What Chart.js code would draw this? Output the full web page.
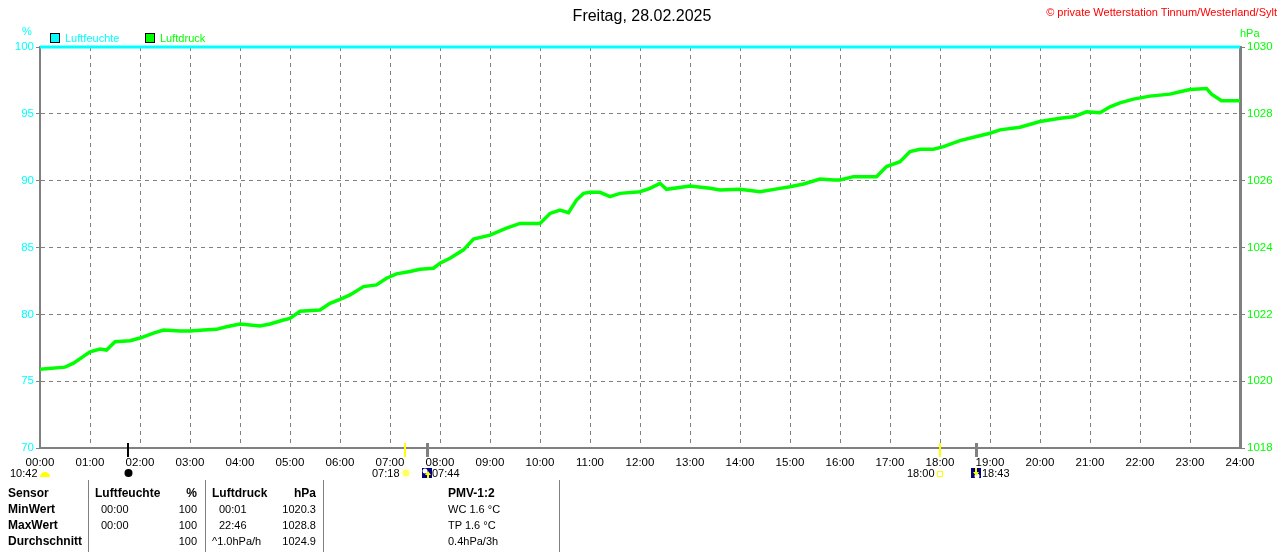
<!DOCTYPE html>
<html>
<head>
<meta charset="utf-8">
<script src="https://cdn.jsdelivr.net/npm/chart.js@4/dist/chart.umd.min.js"></script>
<style>
body { margin: 0; background: #fff; }
#wrap { position: relative; width: 1280px; height: 552px; overflow: hidden; font-family: "Liberation Sans", Arial, sans-serif; }
#wrap canvas { position: absolute; left: 0; top: 0; }
.t { position: absolute; white-space: nowrap; font-size: 11px; line-height: 14px; color: #000; }
.b { font-weight: bold; font-size: 12px; }
.sep { position: absolute; width: 1px; top: 480px; height: 72px; background: #808080; }
.box { position: absolute; width: 8px; height: 8px; border: 1px solid #000; }
</style>
</head>
<body>
<div id="wrap">
  <canvas id="chart" width="1280" height="552"></canvas>

  <div class="t" style="left:0;width:1280px;top:7px;text-align:center;font-size:16px;line-height:18px;padding-left:4px;box-sizing:border-box">Freitag, 28.02.2025</div>
  <div class="t" style="right:3px;top:5px;color:#ff0000">© private Wetterstation Tinnum/Westerland/Sylt</div>

  <div class="t" style="left:22px;top:24px;color:#00ffff">%</div>
  <div class="t" style="left:1240px;top:26px;color:#00ff00">hPa</div>

  <div class="box" style="left:50px;top:33px;background:#00ffff"></div>
  <div class="t" style="left:65px;top:31px;color:#00ffff">Luftfeuchte</div>
  <div class="box" style="left:145px;top:33px;background:#00ff00"></div>
  <div class="t" style="left:160px;top:31px;color:#00ff00">Luftdruck</div>

  <div class="t" style="left:10px;top:466px">10:42</div>
  <div class="t" style="left:372px;top:466px">07:18</div>
  <div class="t" style="left:432px;top:466px">07:44</div>
  <div class="t" style="left:907px;top:466px">18:00</div>
  <div class="t" style="left:982px;top:466px">18:43</div>

  <div class="sep" style="left:88px"></div>
  <div class="sep" style="left:205px"></div>
  <div class="sep" style="left:323px"></div>
  <div class="sep" style="left:559px"></div>

  <div class="t b" style="left:8px;top:486px">Sensor</div>
  <div class="t b" style="left:8px;top:502px">MinWert</div>
  <div class="t b" style="left:8px;top:518px">MaxWert</div>
  <div class="t b" style="left:8px;top:534px">Durchschnitt</div>

  <div class="t b" style="left:95px;top:486px">Luftfeuchte</div>
  <div class="t b" style="right:1083px;top:486px">%</div>
  <div class="t" style="left:101px;top:502px">00:00</div>
  <div class="t" style="right:1083px;top:502px">100</div>
  <div class="t" style="left:101px;top:518px">00:00</div>
  <div class="t" style="right:1083px;top:518px">100</div>
  <div class="t" style="right:1083px;top:534px">100</div>

  <div class="t b" style="left:212px;top:486px">Luftdruck</div>
  <div class="t b" style="right:964px;top:486px">hPa</div>
  <div class="t" style="left:219px;top:502px">00:01</div>
  <div class="t" style="right:964px;top:502px">1020.3</div>
  <div class="t" style="left:219px;top:518px">22:46</div>
  <div class="t" style="right:964px;top:518px">1028.8</div>
  <div class="t" style="left:212px;top:534px">^1.0hPa/h</div>
  <div class="t" style="right:964px;top:534px">1024.9</div>

  <div class="t b" style="left:448px;top:486px">PMV-1:2</div>
  <div class="t" style="left:448px;top:502px">WC 1.6 °C</div>
  <div class="t" style="left:448px;top:518px">TP 1.6 °C</div>
  <div class="t" style="left:448px;top:534px">0.4hPa/3h</div>
</div>

<script>
// time of day in hours
var hours = [0, 0.5, 0.67, 1.0, 1.2, 1.33, 1.5, 1.8, 2.0, 2.27, 2.47, 2.8, 3.0, 3.27, 3.53, 3.73,
  4.0, 4.4, 4.6, 4.87, 5.0, 5.2, 5.6, 5.8, 6.0, 6.2, 6.47, 6.73, 6.93, 7.13, 7.4, 7.6, 7.87,
  8.0, 8.2, 8.47, 8.67, 9.0, 9.33, 9.6, 10.0, 10.2, 10.4, 10.57, 10.73, 10.87, 11.0, 11.2, 11.4,
  11.6, 12.0, 12.2, 12.4, 12.53, 13.0, 13.4, 13.6, 14.0, 14.4, 14.8, 15.0, 15.27, 15.6, 15.87,
  16.0, 16.27, 16.73, 16.93, 17.2, 17.4, 17.6, 17.87, 18.07, 18.4, 18.73, 19.0, 19.2, 19.6,
  20.0, 20.4, 20.67, 20.93, 21.2, 21.4, 21.6, 21.87, 22.2, 22.6, 22.8, 23.0, 23.33, 23.43,
  23.63, 24.0];
// Luftdruck hPa
var pressure = [1020.36, 1020.42, 1020.54, 1020.88, 1020.96, 1020.93, 1021.18, 1021.21, 1021.29,
  1021.44, 1021.53, 1021.50, 1021.50, 1021.53, 1021.55, 1021.63, 1021.71, 1021.65, 1021.71,
  1021.83, 1021.88, 1022.09, 1022.13, 1022.33, 1022.45, 1022.58, 1022.83, 1022.88, 1023.08,
  1023.21, 1023.28, 1023.35, 1023.38, 1023.53, 1023.68, 1023.93, 1024.25, 1024.37, 1024.58,
  1024.72, 1024.72, 1025.02, 1025.12, 1025.04, 1025.42, 1025.62, 1025.65, 1025.65, 1025.52,
  1025.62, 1025.67, 1025.77, 1025.92, 1025.74, 1025.84, 1025.77, 1025.72, 1025.74, 1025.67,
  1025.77, 1025.82, 1025.90, 1026.05, 1026.02, 1026.02, 1026.12, 1026.12, 1026.42, 1026.57,
  1026.87, 1026.94, 1026.94, 1027.02, 1027.20, 1027.32, 1027.42, 1027.52, 1027.60, 1027.77,
  1027.87, 1027.91, 1028.06, 1028.03, 1028.21, 1028.33, 1028.44, 1028.53, 1028.59, 1028.66,
  1028.73, 1028.76, 1028.59, 1028.39, 1028.39];
// Luftfeuchte %
var humHours = [0, 24];
var humidity = [100, 100];

// sun / moon events on the time axis
var events = [
  { t: 1.75, color: '#000000', w: 2, icon: 'newmoon' },
  { t: 7.30, color: '#ffff00', w: 2, icon: 'sunrise' },
  { t: 7.73, color: '#808080', w: 3, icon: 'moonrise' },
  { t: 18.00, color: '#ffff00', w: 2, icon: 'sunset' },
  { t: 18.72, color: '#808080', w: 3, icon: 'moonset' }
];

function pad(n) { return (n < 10 ? '0' : '') + n; }

var FONT = "'Liberation Sans', Arial, sans-serif";

var eventPlugin = {
  id: 'events',
  afterDraw: function (chart) {
    var c = chart.ctx, xs = chart.scales.x, bot = chart.chartArea.bottom;
    c.save();
    // day length icon under 00:00
    var x0 = xs.getPixelForValue(0);
    c.fillStyle = '#ffff00';
    c.beginPath();
    c.arc(x0 + 5, 477, 5, Math.PI, 0);
    c.fill();

    events.forEach(function (e) {
      var x = Math.round(xs.getPixelForValue(e.t));
      c.fillStyle = e.color;
      c.fillRect(x - Math.floor(e.w / 2), bot - 5, e.w, 14);
      var y = 473;
      if (e.icon === 'newmoon') {
        c.fillStyle = '#000';
        c.beginPath(); c.arc(x + 0.5, y, 4, 0, Math.PI * 2); c.fill();
      } else if (e.icon === 'sunrise') {
        c.fillStyle = '#ffff60';
        c.beginPath(); c.arc(x + 1, y, 3.5, 0, Math.PI * 2); c.fill();
        c.strokeStyle = '#ffff90'; c.lineWidth = 1;
        for (var a = 0; a < 8; a++) {
          var an = a * Math.PI / 4;
          c.beginPath();
          c.moveTo(x + 1 + Math.cos(an) * 4.5, y + Math.sin(an) * 4.5);
          c.lineTo(x + 1 + Math.cos(an) * 6, y + Math.sin(an) * 6);
          c.stroke();
        }
      } else if (e.icon === 'sunset') {
        c.strokeStyle = '#ffff00'; c.lineWidth = 1;
        c.strokeRect(x - 2.5, 471.5, 5, 5);
      } else {
        var left = x - 5;
        c.fillStyle = '#000080';
        c.fillRect(left, 468, 10, 10);
        c.fillStyle = '#ffffff';
        if (e.icon === 'moonrise') {
          c.beginPath(); c.arc(left + 3, 471, 2.5, 0, Math.PI * 2); c.fill();
        } else {
          c.beginPath(); c.arc(left + 6, 476, 2.5, 0, Math.PI * 2); c.fill();
        }
        c.fillStyle = '#ffff00';
        c.beginPath();
        if (e.icon === 'moonrise') {
          c.moveTo(left + 6, 471); c.lineTo(left + 9, 475); c.lineTo(left + 3, 475);
          c.fill();
          c.fillRect(left + 5, 474, 2, 4);
        } else {
          c.moveTo(left + 5, 476); c.lineTo(left + 2, 472); c.lineTo(left + 8, 472);
          c.fill();
          c.fillRect(left + 4, 468, 2, 4);
        }
      }
    });
    c.restore();
  }
};

new Chart(document.getElementById('chart'), {
  type: 'line',
  data: {
    datasets: [{
      label: 'Luftdruck',
      data: hours.map(function (h, i) { return { x: h, y: pressure[i] }; }),
      yAxisID: 'yP',
      borderColor: '#00ff00',
      borderWidth: 3.5,
      pointRadius: 0,
      tension: 0
    }, {
      label: 'Luftfeuchte',
      data: humHours.map(function (h, i) { return { x: h, y: humidity[i] }; }),
      yAxisID: 'yH',
      borderColor: '#00ffff',
      borderWidth: 3,
      pointRadius: 0,
      clip: false
    }]
  },
  options: {
    responsive: false,
    animation: false,
    devicePixelRatio: 1,
    layout: { padding: { top: 47, left: 0, right: 0, bottom: 0 } },
    plugins: { legend: { display: false }, title: { display: false }, tooltip: { enabled: false } },
    scales: {
      x: {
        type: 'linear', min: 0, max: 24,
        afterFit: function (s) { s.height = 104; },
        ticks: {
          stepSize: 1, autoSkip: false, maxRotation: 0, padding: 8,
          color: '#000', font: { family: FONT, size: 11.5 },
          callback: function (v) { return pad(v) + ':00'; }
        },
        grid: { color: '#808080', lineWidth: 1, drawTicks: false },
        border: { display: true, color: '#808080', width: 2, dash: [4, 4] }
      },
      yH: {
        position: 'left', min: 70, max: 100,
        afterFit: function (s) { s.width = 40; },
        ticks: { stepSize: 5, padding: 2, color: '#00ffff', font: { family: FONT, size: 11.5 },
          callback: function (v) { return String(v); } },
        grid: { color: '#808080', lineWidth: 1, tickLength: 4 },
        border: { display: true, color: '#808080', width: 2, dash: [4, 4] }
      },
      yP: {
        position: 'right', min: 1018, max: 1030,
        afterFit: function (s) { s.width = 40; },
        ticks: { stepSize: 2, padding: 2, color: '#00ff00', font: { family: FONT, size: 11.5 },
          callback: function (v) { return String(v); } },
        grid: { drawOnChartArea: false, color: '#808080', tickLength: 5 },
        border: { display: true, color: '#808080', width: 3 }
      }
    }
  },
  plugins: [eventPlugin]
});
</script>
</body>
</html>
